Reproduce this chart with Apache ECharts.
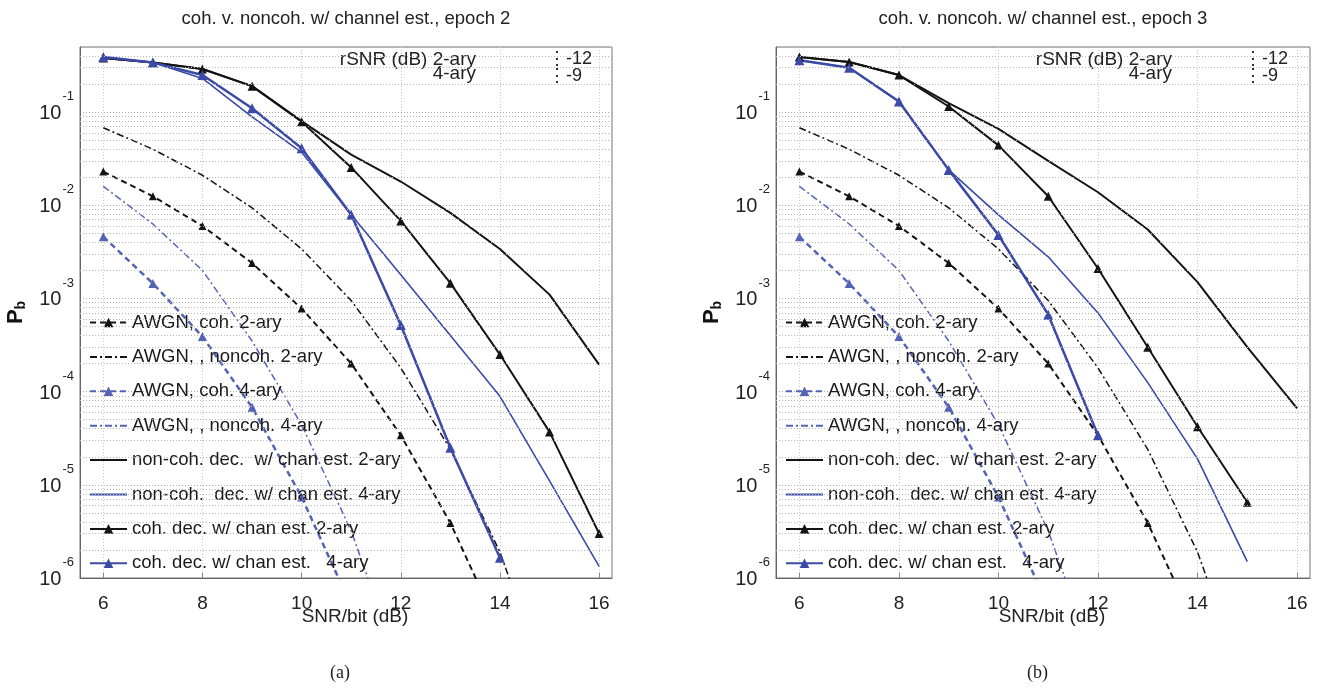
<!DOCTYPE html>
<html>
<head>
<meta charset="utf-8">
<script src="https://cdn.jsdelivr.net/npm/echarts@6/dist/echarts.min.js"></script>
<style>
  html, body { margin: 0; padding: 0; background: #fff; }
  #chart { width: 1321px; height: 689px; }
</style>
</head>
<body>
<div id="chart"></div>
<script>
// SNR/bit (dB) on the x axis
var snr = [6, 7, 8, 9, 10, 11, 12, 13, 14, 15, 16];

// theoretical AWGN curves (same in both panels)
var awgnCoh2    = [0.023, 0.0125, 0.006, 0.0024, 7.8e-4, 2.0e-4, 3.4e-5, 3.9e-6, 2.7e-7, null, null];
var awgnNoncoh2 = [0.068, 0.040, 0.021, 0.0094, 0.0034, 9.5e-4, 1.8e-4, 2.4e-5, 1.9e-6, 6e-8, null];
var awgnCoh4    = [4.6e-3, 1.45e-3, 3.9e-4, 6.8e-5, 7.4e-6, 5e-7, null, null, null, null, null];
var awgnNoncoh4 = [0.016, 0.0063, 0.002, 3.5e-4, 4.4e-5, 3.2e-6, 1e-7, null, null, null, null];

// epoch 2
var ep2NoncohChan2 = [0.38, 0.34, 0.29, 0.19, 0.080, 0.035, 0.018, 0.0083, 0.0034, 1.1e-3, 1.95e-4];
var ep2NoncohChan4 = [0.39, 0.34, 0.23, 0.089, 0.037, 0.0079, 0.0018, 4.0e-4, 8.9e-5, 1.1e-5, 1.33e-6];
var ep2CohChan2    = [0.38, 0.34, 0.29, 0.19, 0.079, 0.0255, 0.0068, 1.46e-3, 2.5e-4, 3.7e-5, 3.0e-6];
var ep2CohChan4    = [0.39, 0.34, 0.25, 0.11, 0.041, 0.0079, 5.2e-4, 2.5e-5, 1.65e-6, null, null];

// epoch 3
var ep3NoncohChan2 = [0.39, 0.345, 0.25, 0.125, 0.066, 0.030, 0.0138, 0.0055, 1.5e-3, 3.0e-4, 6.6e-5];
var ep3NoncohChan4 = [0.36, 0.30, 0.13, 0.024, 7.9e-3, 2.8e-3, 7.0e-4, 1.25e-4, 1.9e-5, 1.5e-6, null];
var ep3CohChan2    = [0.39, 0.345, 0.25, 0.115, 0.044, 0.0125, 2.1e-3, 3.0e-4, 4.2e-5, 6.5e-6, null];
var ep3CohChan4    = [0.36, 0.30, 0.13, 0.024, 4.8e-3, 6.7e-4, 3.4e-5, null, null, null, null];

var legendNames = [
  'AWGN, coh. 2-ary',
  'AWGN, , noncoh. 2-ary',
  'AWGN, coh. 4-ary',
  'AWGN, , noncoh. 4-ary',
  'non-coh. dec.  w/ chan est. 2-ary',
  'non-coh.  dec. w/ chan est. 4-ary',
  'coh. dec. w/ chan est. 2-ary',
  'coh. dec. w/ chan est.   4-ary'
];
var legendHasMarker = [true, false, true, false, false, false, true, true];
var titles = ['coh. v. noncoh. w/ channel est., epoch 2', 'coh. v. noncoh. w/ channel est., epoch 3'];
var captions = ['(a)', '(b)'];
var xTicks = [6, 8, 10, 12, 14, 16];

var FONT = "'Liberation Sans Narrow','Liberation Sans',Arial,sans-serif";
var BLACK = '#141414';
var BLUE = '#3b4aa6';
var BLUE2 = '#5563b4';

// log minor grid values 2..9 x 10^k
var minorGrid = [];
for (var k = -6; k <= -1; k++) {
  for (var m = 2; m <= 9; m++) {
    var v = m * Math.pow(10, k);
    if (v < 0.5) minorGrid.push(v);
  }
}

function pairs(ys) {
  var out = [];
  for (var i = 0; i < snr.length; i++) {
    if (ys[i] != null) out.push([snr[i], ys[i]]);
  }
  return out;
}

var grids = [
  { left: 80, top: 47, width: 532, height: 531 },
  { left: 776, top: 47, width: 534, height: 531 }
];

function makeSeries(p, curves) {
  var base = { type: 'line', xAxisIndex: p, yAxisIndex: p, clip: true, animation: false };
  function s(name, data, color, width, type, symbol, symSize) {
    return Object.assign({}, base, {
      name: name,
      data: pairs(data),
      symbol: symbol || 'none',
      symbolSize: symSize || 9,
      showSymbol: !!symbol,
      itemStyle: { color: color },
      lineStyle: { color: color, width: width, type: type }
    });
  }
  return [
    Object.assign({}, base, {
      name: 'grid' + p, data: [], z: 1, silent: true,
      markLine: {
        silent: true, symbol: 'none', animation: false, precision: 12,
        label: { show: false },
        lineStyle: { color: '#b4b4b4', type: [1, 2], width: 1 },
        data: minorGrid.map(function (g) { return { yAxis: g }; })
      }
    }),
    s(legendNames[0], awgnCoh2, BLACK, 2, [6, 4], 'triangle', 8),
    s(legendNames[1], awgnNoncoh2, BLACK, 1.5, [7, 3, 2, 3]),
    s(legendNames[2], awgnCoh4, BLUE2, 2.5, [6, 4], 'triangle', 9),
    s(legendNames[3], awgnNoncoh4, BLUE2, 1.5, [7, 3, 2, 3]),
    s(legendNames[4], curves[0], BLACK, 2, 'solid'),
    s(legendNames[5], curves[1], BLUE, 1.6, 'solid'),
    s(legendNames[6], curves[2], BLACK, 2, 'solid', 'triangle', 9),
    s(legendNames[7], curves[3], BLUE, 2.5, 'solid', 'triangle', 10)
  ];
}

var series = makeSeries(0, [ep2NoncohChan2, ep2NoncohChan4, ep2CohChan2, ep2CohChan4])
  .concat(makeSeries(1, [ep3NoncohChan2, ep3NoncohChan4, ep3CohChan2, ep3CohChan4]));

var legendData = legendNames.map(function (n, i) {
  return legendHasMarker[i] ? { name: n } : { name: n, itemStyle: { opacity: 0 } };
});

var xAxes = [], yAxes = [], legends = [], titleList = [], graphics = [];
grids.forEach(function (g, p) {
  xAxes.push({
    type: 'value', gridIndex: p, min: 5.53, max: 16.26,
    name: 'SNR/bit (dB)', nameLocation: 'middle', nameGap: 29, nameMoveOverlap: false,
    nameTextStyle: { fontFamily: FONT, fontSize: 19, color: '#222', padding: [0, 0, 0, 18] },
    axisLine: { show: true, onZero: false, lineStyle: { color: '#666' } },
    axisTick: { show: true, inside: true, length: 5, customValues: xTicks, lineStyle: { color: '#888' } },
    axisLabel: { customValues: xTicks, fontFamily: FONT, fontSize: 19, color: '#222', margin: 16 },
    splitLine: { show: true, lineStyle: { color: '#c8c8c8', type: [1, 2] } }
  });
  yAxes.push({
    type: 'log', logBase: 10, gridIndex: p, min: 1e-6, max: 0.5,
    name: '{p|P}{s|b}', nameLocation: 'middle', nameGap: 52, nameRotate: 90, nameMoveOverlap: false,
    nameTextStyle: {
      rich: {
        p: { fontFamily: FONT, fontSize: 22, fontWeight: 'bold', color: '#111' },
        s: { fontFamily: FONT, fontSize: 14, fontWeight: 'bold', color: '#111', padding: [10, 0, 0, 0] }
      }
    },
    axisLine: { show: true, lineStyle: { color: '#666' } },
    axisTick: { show: false },
    axisLabel: {
      margin: 6,
      formatter: function (v) {
        var e = Math.log10(v);
        var r = Math.round(e);
        if (Math.abs(e - r) > 1e-6) return '';
        return '{b|10}{s|' + r + '}';
      },
      rich: {
        b: { fontFamily: FONT, fontSize: 20, color: '#222', padding: [3, 0, 0, 0] },
        s: { fontFamily: FONT, fontSize: 13, color: '#222', padding: [0, 0, 31, 1] }
      }
    },
    splitLine: { show: true, lineStyle: { color: '#ababab', type: [1, 2] } }
  });
  legends.push({
    data: legendData, orient: 'vertical',
    left: g.left + 4, top: 307, itemGap: 13.4,
    itemWidth: 37, itemHeight: 12,
    textStyle: { fontFamily: FONT, fontSize: 18.5, color: '#1a1a1a', lineHeight: 21 },
    selectedMode: false
  });
  titleList.push({
    text: titles[p], left: g.left + g.width / 2 - 5, top: 4, textAlign: 'center',
    textStyle: { fontFamily: FONT, fontSize: 18.5, fontWeight: 'normal', color: '#222' }
  });
  var ax = g.left + 396;
  graphics.push(
    { type: 'text', right: 1321 - ax, top: 50, style: { text: 'rSNR (dB) 2-ary', font: '19px ' + FONT, fill: '#222', textAlign: 'right' } },
    { type: 'text', right: 1321 - ax, top: 64, style: { text: '4-ary', font: '19px ' + FONT, fill: '#222', textAlign: 'right' } },
    { type: 'text', left: g.left + 468, top: 50, style: { text: '\u22ee-12', font: '18px ' + FONT, fill: '#222' } },
    { type: 'text', left: g.left + 468, top: 67, style: { text: '\u22ee-9', font: '18px ' + FONT, fill: '#222' } },
    { type: 'text', left: g.left + g.width / 2 - 16, top: 664, style: { text: captions[p], font: '18px "Liberation Serif", "DejaVu Serif", serif', fill: '#222' } }
  );
});

var chart = echarts.init(document.getElementById('chart'), null, { renderer: 'canvas' });
chart.setOption({
  backgroundColor: '#fff',
  animation: false,
  title: titleList,
  grid: grids.map(function (g) {
    return Object.assign({ show: true, borderColor: '#777', borderWidth: 1, backgroundColor: 'transparent' }, g);
  }),
  xAxis: xAxes,
  yAxis: yAxes,
  legend: legends,
  graphic: graphics,
  series: series
});
</script>
</body>
</html>
